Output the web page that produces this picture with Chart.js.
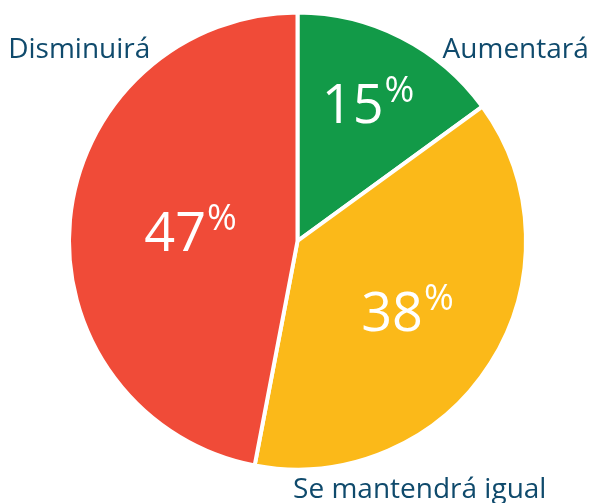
<!DOCTYPE html>
<html>
<head>
<meta charset="utf-8">
<script src="https://cdn.jsdelivr.net/npm/chart.js@4"></script>
<style>
  html, body { margin: 0; padding: 0; background: #ffffff; }
  #wrap { width: 593px; height: 503px; }
</style>
</head>
<body>
<div id="wrap"><canvas id="pieChart" width="593" height="503"></canvas></div>
<script>
const categories = ["Aumentará", "Se mantendrá igual", "Disminuirá"];
const values = [15, 38, 47];
const sliceColors = ["#129a48", "#fbb919", "#f04b38"];

// where the inner numbers sit (fraction of radius) and outer label offsets
const innerRadiusFactor = [0.68, 0.57, 0.47];
const outerLabelOffsets = [
  [0.955, -0.835],
  [0.535, 1.09],
  [-0.955, -0.835]
];

const TEXT_COLOR = "#0f4a6c";
const FONT = "'Open Sans', 'Noto Sans', sans-serif";

const pieLabels = {
  id: "pieLabels",
  afterDatasetsDraw(chart) {
    const ctx = chart.ctx;
    const arcs = chart.getDatasetMeta(0).data;

    arcs.forEach((arc, i) => {
      const r = arc.outerRadius;
      const mid = (arc.startAngle + arc.endAngle) / 2;
      const cx = arc.x + Math.cos(mid) * r * innerRadiusFactor[i];
      const cy = arc.y + Math.sin(mid) * r * innerRadiusFactor[i];

      const num = String(values[i]);
      ctx.save();
      ctx.fillStyle = "#ffffff";
      ctx.font = "54px " + FONT;
      const numW = ctx.measureText(num).width;
      ctx.font = "36px " + FONT;
      const pctW = ctx.measureText("%").width;
      const left = cx - (numW + pctW + 1) / 2;

      ctx.textBaseline = "alphabetic";
      ctx.textAlign = "left";
      ctx.font = "54px " + FONT;
      ctx.fillText(num, left, cy + 20);
      ctx.font = "36px " + FONT;
      ctx.fillText("%", left + numW + 1, cy - 1);
      ctx.restore();

      const off = outerLabelOffsets[i];
      ctx.save();
      ctx.fillStyle = TEXT_COLOR;
      ctx.font = "28px " + FONT;
      ctx.textAlign = "center";
      ctx.textBaseline = "middle";
      ctx.fillText(categories[i], arc.x + off[0] * r, arc.y + off[1] * r);
      ctx.restore();
    });
  }
};

new Chart(document.getElementById("pieChart"), {
  type: "pie",
  data: {
    labels: categories,
    datasets: [
      {
        data: values,
        backgroundColor: sliceColors,
        borderColor: "#ffffff",
        borderWidth: 4
      }
    ]
  },
  options: {
    responsive: false,
    animation: false,
    layout: {
      padding: { top: 10, bottom: 31, left: 67, right: 65 }
    },
    plugins: {
      legend: { display: false },
      tooltip: { enabled: false }
    }
  },
  plugins: [pieLabels]
});
</script>
</body>
</html>
